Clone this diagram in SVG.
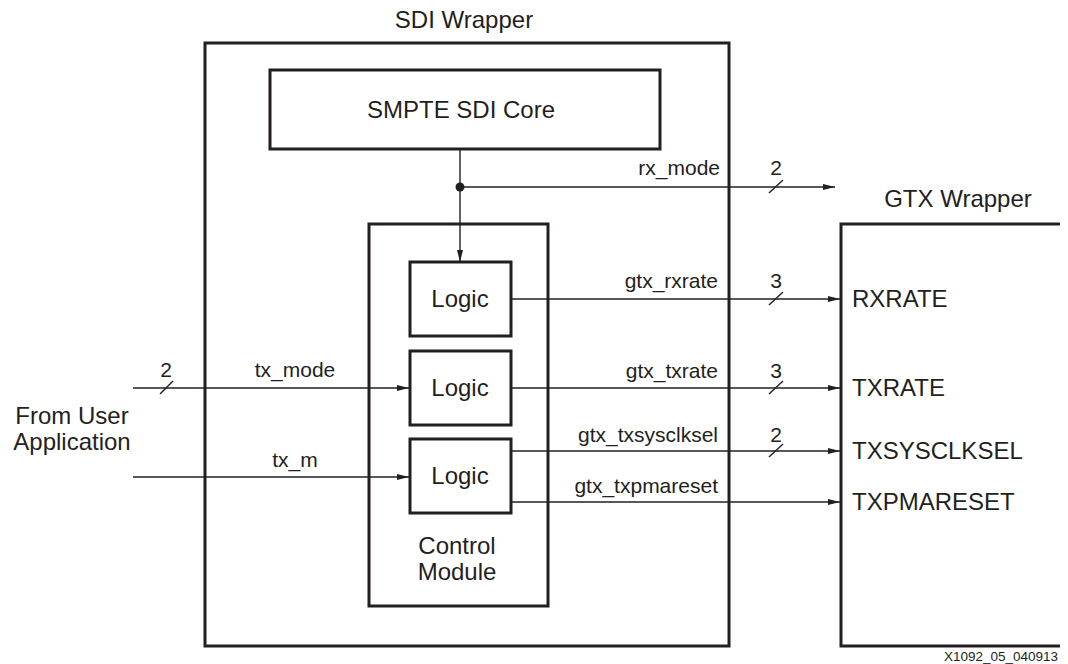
<svg xmlns="http://www.w3.org/2000/svg" width="1068" height="664" viewBox="0 0 1068 664">
<style>
.box{fill:none;stroke:#231f20;stroke-width:3}
.ln{fill:none;stroke:#231f20;stroke-width:1.4}
.t{font-family:"Liberation Sans",Arial,sans-serif;font-size:24px;fill:#231f20}
.s{font-family:"Liberation Sans",Arial,sans-serif;font-size:21px;fill:#231f20}
.f{font-family:"Liberation Sans",Arial,sans-serif;font-size:13.5px;fill:#231f20}
</style>
<defs>
<marker id="ah" markerWidth="12" markerHeight="8" refX="12" refY="4" orient="auto" markerUnits="userSpaceOnUse">
<path d="M0,1 L12,4 L0,7 Z" fill="#231f20"/>
</marker>
</defs>
<rect width="1068" height="664" fill="#fff"/>
<g id="sdi-wrapper">
<rect class="box" x="205" y="43" width="524" height="603"/>
<text class="t" x="464" y="28" text-anchor="middle">SDI Wrapper</text>
</g>
<g id="smpte-core">
<rect class="box" x="270" y="70" width="390" height="79"/>
<text class="t" x="461" y="118" text-anchor="middle">SMPTE SDI Core</text>
</g>
<g id="control-module">
<rect class="box" x="369" y="224" width="179" height="382"/>
<text class="t" x="457" y="554" text-anchor="middle">Control</text>
<text class="t" x="457" y="580" text-anchor="middle">Module</text>
</g>
<g id="logic1">
<rect class="box" x="410" y="262" width="101" height="74"/>
<text class="t" x="460" y="307" text-anchor="middle">Logic</text>
</g>
<g id="logic2">
<rect class="box" x="410" y="351" width="101" height="74"/>
<text class="t" x="460" y="396" text-anchor="middle">Logic</text>
</g>
<g id="logic3">
<rect class="box" x="410" y="439" width="101" height="74"/>
<text class="t" x="460" y="484" text-anchor="middle">Logic</text>
</g>
<g id="gtx-wrapper">
<path class="box" d="M1060,224 L841,224 L841,646 L1060,646"/>
<text class="t" x="958" y="207" text-anchor="middle">GTX Wrapper</text>
<text class="t" x="852" y="307">RXRATE</text>
<text class="t" x="852" y="396">TXRATE</text>
<text class="t" x="852" y="459">TXSYSCLKSEL</text>
<text class="t" x="852" y="510">TXPMARESET</text>
</g>
<g id="user-app">
<text class="t" x="72" y="424" text-anchor="middle">From User</text>
<text class="t" x="72" y="450" text-anchor="middle">Application</text>
</g>
<g id="connectors">
<line class="ln" x1="460" y1="149" x2="460" y2="262" marker-end="url(#ah)"/>
<circle cx="460" cy="187" r="4.5" fill="#231f20"/>
<line class="ln" x1="460" y1="187" x2="835" y2="187" marker-end="url(#ah)"/>
<line class="ln" x1="769" y1="193" x2="783" y2="180"/>
<text class="s" x="720" y="175" text-anchor="end">rx_mode</text>
<text class="s" x="776" y="175" text-anchor="middle">2</text>

<line class="ln" x1="511" y1="299" x2="840" y2="299" marker-end="url(#ah)"/>
<line class="ln" x1="769" y1="305" x2="783" y2="292"/>
<text class="s" x="718" y="288" text-anchor="end">gtx_rxrate</text>
<text class="s" x="776" y="288" text-anchor="middle">3</text>

<line class="ln" x1="511" y1="388" x2="840" y2="388" marker-end="url(#ah)"/>
<line class="ln" x1="769" y1="394" x2="783" y2="381"/>
<text class="s" x="718" y="378" text-anchor="end">gtx_txrate</text>
<text class="s" x="776" y="378" text-anchor="middle">3</text>

<line class="ln" x1="511" y1="451" x2="840" y2="451" marker-end="url(#ah)"/>
<line class="ln" x1="769" y1="457" x2="783" y2="444"/>
<text class="s" x="718" y="442" text-anchor="end">gtx_txsysclksel</text>
<text class="s" x="776" y="442" text-anchor="middle">2</text>

<line class="ln" x1="511" y1="502" x2="840" y2="502" marker-end="url(#ah)"/>
<text class="s" x="718" y="493" text-anchor="end">gtx_txpmareset</text>

<line class="ln" x1="133" y1="388" x2="409" y2="388" marker-end="url(#ah)"/>
<line class="ln" x1="160" y1="394" x2="173" y2="381"/>
<text class="s" x="166" y="377" text-anchor="middle">2</text>
<text class="s" x="295" y="377" text-anchor="middle">tx_mode</text>

<line class="ln" x1="133" y1="477" x2="409" y2="477" marker-end="url(#ah)"/>
<text class="s" x="295" y="467" text-anchor="middle">tx_m</text>
</g>
<text class="f" x="1058" y="661" text-anchor="end">X1092_05_040913</text>
</svg>
